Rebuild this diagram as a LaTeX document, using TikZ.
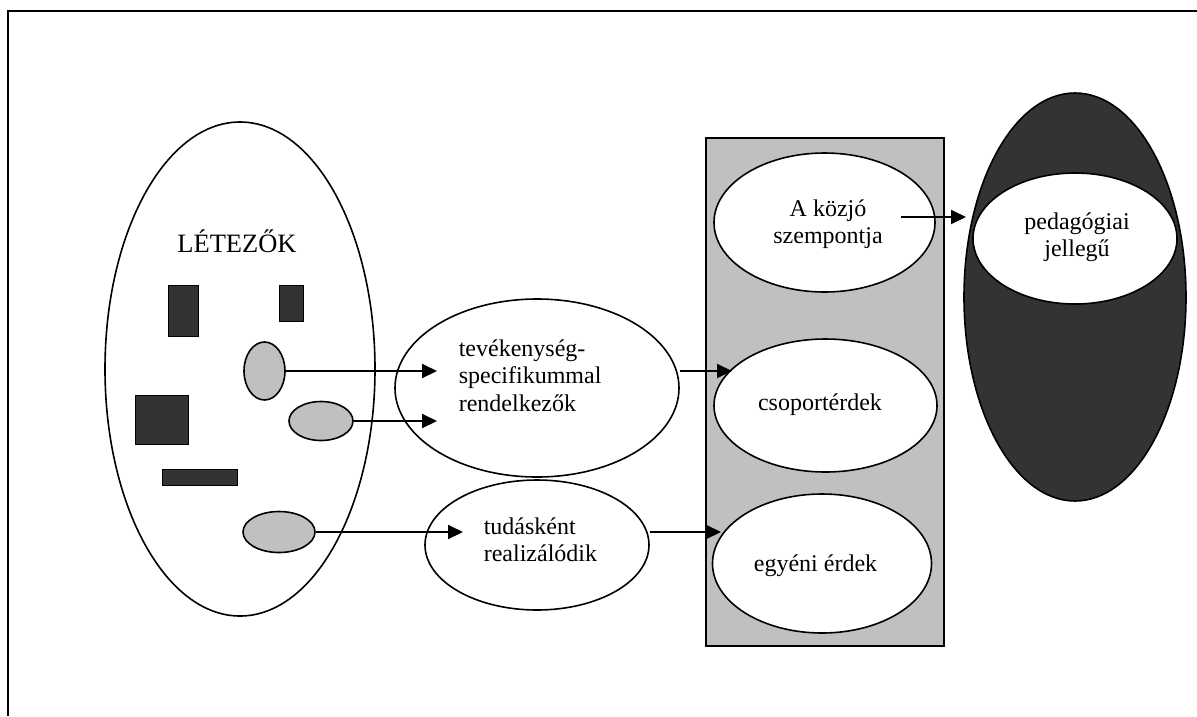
\documentclass[tikz,border=0pt]{standalone}
\usepackage{fontspec}
\setmainfont{Liberation Serif}
\usetikzlibrary{shapes.geometric, arrows.meta, positioning}
\definecolor{darkfill}{HTML}{333333}
\definecolor{lightfill}{HTML}{C0C0C0}

\begin{document}
\begin{tikzpicture}[x=1pt,y=-1pt,->,>={Triangle[length=15pt,width=14pt]},line width=1.6pt,
                    big node/.style={ellipse,draw,fill=white,inner sep=0pt},
                    gray node/.style={ellipse,draw,fill=lightfill,inner sep=0pt},
                    dark box/.style={rectangle,draw,fill=darkfill,line width=1pt,inner sep=0pt},
                    label node/.style={inner sep=0pt,font=\fontsize{24}{27.5}\selectfont}]

        \useasboundingbox (0,0) rectangle (1197,716);
        \draw[-] (8,716) -- (8,11) -- (1197,11);

        % left: the existing things
        \node[big node, minimum width=270pt, minimum height=494pt] (letezok) at (240,369) {};
        \node[label node, font=\fontsize{26.5}{30}\selectfont, anchor=base] (letlbl) at (237,252) {LÉTEZŐK};

        \node[dark box, minimum width=30pt, minimum height=51pt] (r1) at (183,310.5) {};
        \node[dark box, minimum width=24pt, minimum height=36pt] (r2) at (291,303) {};
        \node[dark box, minimum width=53pt, minimum height=49pt] (r3) at (161.5,419.5) {};
        \node[dark box, minimum width=75pt, minimum height=16pt] (r4) at (199.5,477) {};

        \node[gray node, minimum width=41pt, minimum height=58pt] (g1) at (264.5,371) {};
        \node[gray node, minimum width=64pt, minimum height=39pt] (g2) at (321,421) {};
        \node[gray node, minimum width=72pt, minimum height=41pt] (g3) at (279,532) {};

        % middle
        \node[big node, minimum width=284pt, minimum height=178pt] (tev) at (537,388) {};
        \node[label node, align=left, anchor=north west] (tevlbl) at (458,339) {tevékenység-\\specifikummal\\rendelkezők};
        \node[big node, minimum width=224pt, minimum height=130pt] (tud) at (537,545) {};
        \node[label node, align=left, anchor=north west] (tudlbl) at (483,517) {tudásként\\realizálódik};

        % the interests
        \node[rectangle, draw, fill=lightfill, inner sep=0pt, minimum width=238pt, minimum height=508pt] (box) at (825,392) {};
        \node[big node, minimum width=221pt, minimum height=139pt] (kozjo) at (824.5,222.5) {};
        \node[label node, align=center, anchor=north] (kozlbl) at (828,199) {A közjó\\szempontja};
        \node[big node, minimum width=223pt, minimum height=133pt] (csop) at (825.5,405.5) {};
        \node[label node, anchor=base] (csoplbl) at (820,410) {csoportérdek};
        \node[big node, minimum width=219pt, minimum height=139pt] (egyeni) at (822,563.5) {};
        \node[label node, anchor=base] (egylbl) at (815.5,571) {egyéni érdek};

        % right
        \node[ellipse, draw, fill=darkfill, inner sep=0pt, minimum width=222pt, minimum height=408pt] (dark) at (1075,297) {};
        \node[big node, minimum width=204pt, minimum height=131pt] (ped) at (1075,238.5) {};
        \node[label node, align=center, anchor=north] (pedlbl) at (1077,212) {pedagógiai\\jellegű};

        \coordinate (t1) at (437,371);
        \coordinate (t2) at (437,421);
        \coordinate (t3) at (463,532);
        \coordinate (t4) at (732,371);
        \coordinate (t5) at (721,532);
        \coordinate (k0) at (901,217);
        \coordinate (t6) at (966,217);

        \path[line width=2pt]
          (g1) edge (t1)
          (g2) edge (t2)
          (g3) edge (t3)
          (tev.east |- t4) edge (t4)
          (tud.east |- t5) edge (t5)
          (k0) edge (t6);
      \end{tikzpicture}
\end{document}
